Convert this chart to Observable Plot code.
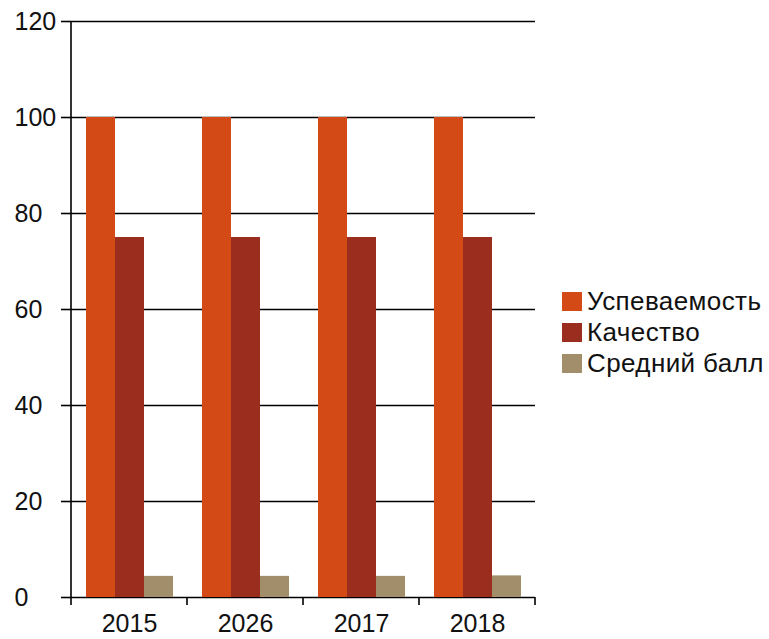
<!DOCTYPE html>
<html>
<head>
<meta charset="utf-8">
<script src="https://cdn.jsdelivr.net/npm/d3@7"></script>
<script src="https://cdn.jsdelivr.net/npm/@observablehq/plot@0.6"></script>
<style>
  body { margin: 0; background: white; font-family: "Liberation Sans", Arial, sans-serif; }
  #wrap { position: relative; width: 769px; height: 639px; }
  #legend { position: absolute; left: 562px; top: 286px; font-size: 26px; letter-spacing: 0.4px; color: #111; }
  .item { display: flex; align-items: center; height: 31px; }
  .sw { width: 20px; height: 19px; margin-right: 5px; box-sizing: border-box; }
</style>
</head>
<body>
<div id="wrap"><div id="legend"></div></div>
<script>
const years = ["2015", "2026", "2017", "2018"];
const series = ["Успеваемость", "Качество", "Средний балл"];
const uspevaemost = [100, 100, 100, 100];
const kachestvo = [75, 75, 75, 75];
const sredniiBall = [4.4, 4.4, 4.4, 4.5];
const yTicks = [0, 20, 40, 60, 80, 100, 120];
const colors = ["#d34a17", "#9b2d1f", "#a28e6a"];

const valuesBySeries = [uspevaemost, kachestvo, sredniiBall];
const data = years.flatMap((yr, i) =>
  series.map((s, j) => ({ year: yr, series: s, value: valuesBySeries[j][i] }))
);

const chart = Plot.plot({
  width: 769,
  height: 639,
  marginLeft: 71,
  marginRight: 234,
  marginTop: 21,
  marginBottom: 42,
  style: { fontFamily: "'Liberation Sans', Arial, sans-serif", fontSize: "25px", color: "#111", background: "white", overflow: "visible" },
  fx: { domain: years, padding: 0, label: null, axis: "bottom", tickSize: 0, tickPadding: 17 },
  x: { domain: series, paddingInner: 0, paddingOuter: 0.5, axis: null },
  y: { domain: [0, 120], label: null, axis: null },
  color: { domain: series, range: colors },
  marks: [
    Plot.ruleY(yTicks, { stroke: "#000", strokeWidth: 1.6 }),
    Plot.barY(data, { fx: "year", x: "series", y: "value", fill: "series" }),
    Plot.axisY(yTicks, { tickSize: 10, tickPadding: 47, textAnchor: "start", fontSize: 25, label: null, stroke: "#000", strokeWidth: 1.6 })
  ]
});

document.getElementById("wrap").prepend(chart);

// axis line and band-edge ticks, derived from the plot's scales
const svg = d3.select(chart.tagName.toLowerCase() === "svg" ? chart : chart.querySelector("svg"));
const fx = chart.scale("fx");
const y = chart.scale("y");
const y0 = y.apply(0), yTop = y.apply(120);
const edges = years.map(d => fx.apply(d));
edges.push(fx.apply(years[years.length - 1]) + fx.bandwidth);
const g = svg.append("g").attr("stroke", "#000").attr("stroke-width", 1.6);
g.append("line").attr("x1", edges[0]).attr("x2", edges[0]).attr("y1", yTop).attr("y2", y0 + 8);
edges.slice(1).forEach(x => g.append("line").attr("x1", x).attr("x2", x).attr("y1", y0).attr("y2", y0 + 8));

// legend
const legend = d3.select("#legend");
series.forEach((s, i) => {
  const it = legend.append("div").attr("class", "item");
  it.append("div").attr("class", "sw").style("background", colors[i]);
  it.append("span").text(s);
});
</script>
</body>
</html>
